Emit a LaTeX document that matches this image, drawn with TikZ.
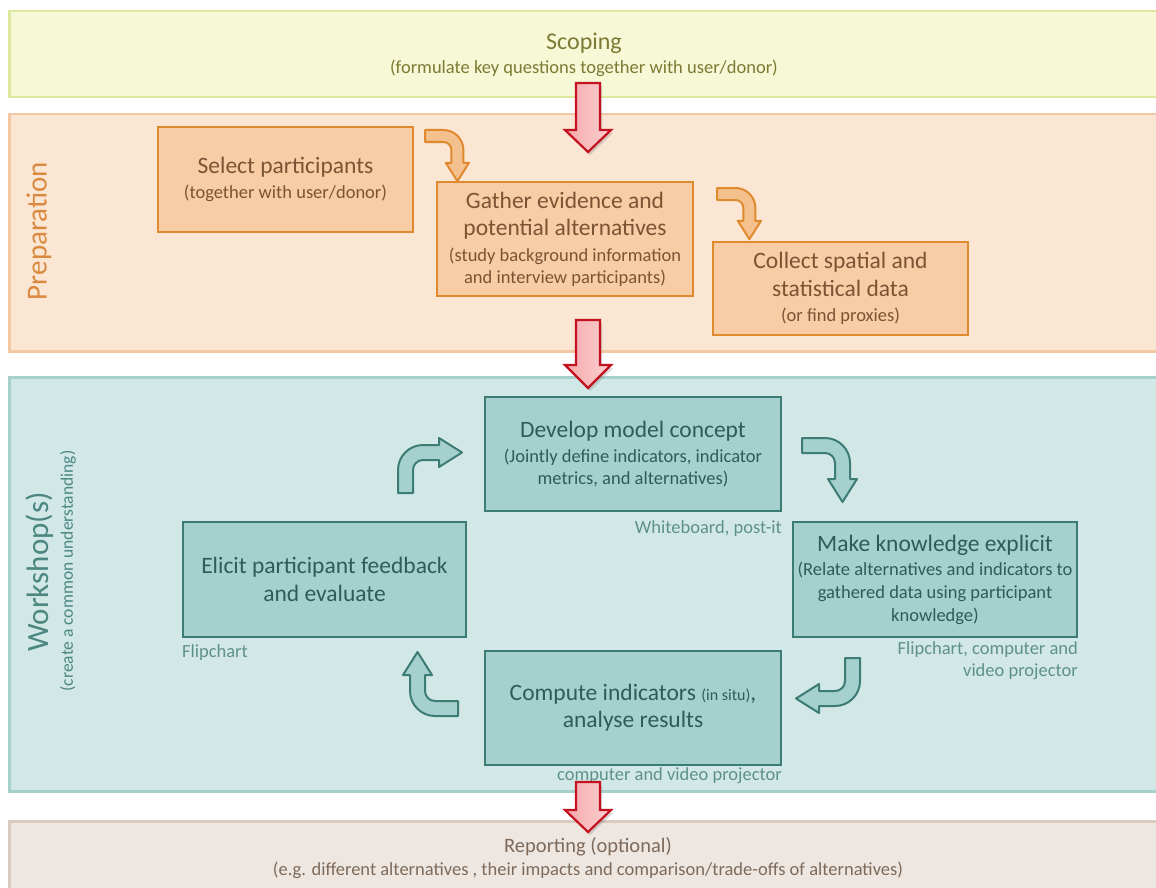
\documentclass[tikz,border=0pt]{standalone}
\usepackage{fontspec}
\setmainfont{Carlito}
\usetikzlibrary{shadows}

\definecolor{scopefill}{HTML}{F6F8D6}
\definecolor{scopeline}{HTML}{DCE89A}
\definecolor{scopetext}{HTML}{7C7A34}
\definecolor{prepfill}{HTML}{FBE5D3}
\definecolor{prepline}{HTML}{F4C8A2}
\definecolor{prepbox}{HTML}{F8CCA4}
\definecolor{prepboxline}{HTML}{DF8A2E}
\definecolor{preptext}{HTML}{7A5434}
\definecolor{preplabel}{HTML}{DA8A40}
\definecolor{prepbent}{HTML}{F4C08E}
\definecolor{workfill}{HTML}{D2E8E6}
\definecolor{workline}{HTML}{A6D0CC}
\definecolor{workbox}{HTML}{A4D1CD}
\definecolor{workboxline}{HTML}{3D7B75}
\definecolor{worktext}{HTML}{2E5C58}
\definecolor{worklabel}{HTML}{4C8782}
\definecolor{worknote}{HTML}{5E908C}
\definecolor{repfill}{HTML}{EEE7E1}
\definecolor{repline}{HTML}{D9CBBF}
\definecolor{reptext}{HTML}{7E6A5A}
\definecolor{redline}{HTML}{C3121F}
\definecolor{redfill}{HTML}{F6A9AB}
\definecolor{redlight}{HTML}{FBCFD0}

\newcommand\ttl{\fontsize{23.5}{28}\selectfont}
\newcommand\sbt{\fontsize{18.5}{22}\selectfont}

\tikzset{
  band/.style={rectangle, line width=2.5pt, inner sep=0pt},
  stagebox/.style={rectangle, line width=2.2pt, inner sep=0pt, align=center, font=\sbt},
  prepstage/.style={stagebox, fill=prepbox, draw=prepboxline, text=preptext},
  workstage/.style={stagebox, fill=workbox, draw=workboxline, text=worktext},
  note/.style={font=\sbt, text=worknote, inner sep=0pt},
  bentstyle/.style={line width=2pt, line join=round},
  pics/bentarrow/.style={code={
    \filldraw[bentstyle, #1]
      (0,0) -- (0,-23) .. controls (0,-36.8) and (11.2,-48) .. (25,-48)
      -- (41,-48) -- (41,-55) -- (64,-40.5) -- (41,-26) -- (41,-33)
      -- (25,-33) .. controls (19.48,-33) and (15,-28.52) .. (15,-23)
      -- (15,0) -- cycle;
  }},
  pics/stagearrow/.style 2 args={code={
    \draw[draw=redline, left color=redfill, right color=redlight, line width=2.2pt, line join=miter,
      drop shadow={opacity=0.3, shadow xshift=2pt, shadow yshift=-3pt}]
      (-12,0) -- (-12,#1) -- (-23,#1) -- (0,#2) -- (23,#1) -- (12,#1)
      -- (12,0) -- cycle;
  }}
}

\begin{document}
\begin{tikzpicture}[x=1pt, y=-1pt]
\useasboundingbox (0,0) rectangle (1156,888);
\fill[white] (0,0) rectangle (1156,888);
\clip (0,0) rectangle (1156,888);

% phase bands
\node[band, fill=scopefill, draw=scopeline, minimum width=1170pt, minimum height=86pt,
  anchor=north west] (scoping) at (8,10) {};
\node[band, fill=prepfill, draw=prepline, minimum width=1170pt, minimum height=237pt,
  anchor=north west] (preparation) at (8,113) {};
\node[band, fill=workfill, draw=workline, minimum width=1170pt, minimum height=414pt,
  anchor=north west] (workshop) at (8,376) {};
\node[band, fill=repfill, draw=repline, minimum width=1170pt, minimum height=80pt,
  anchor=north west] (reporting) at (8,820) {};

% band texts
\node[text=scopetext, align=center, font=\sbt] (scopetxt) at (584,55)
  {{\fontsize{24}{28}\selectfont Scoping}\\[2pt](formulate key questions together with user/donor)};
\node[text=preplabel, rotate=90, font=\fontsize{29}{32}\selectfont] (preplbl) at (39,231) {Preparation};
\node[text=worklabel, rotate=90, font=\fontsize{31}{34}\selectfont] (worklbl) at (40,572) {Workshop(s)};
\node[text=worklabel, rotate=90, font=\fontsize{17.5}{20}\selectfont] (worksub) at (68,571) {(create a common understanding)};
\node[text=reptext, align=center, font=\sbt] (reptxt) at (588,858)
  {{\fontsize{20.5}{24}\selectfont Reporting (optional)}\\[1pt](e.g. different alternatives , their impacts and comparison/trade-offs  of alternatives)};

% preparation steps
\node[prepstage, minimum width=255pt, minimum height=105pt] (select) at (285.5,179.5)
  {{\ttl Select participants}\\[3pt](together with user/donor)};
\node[prepstage, minimum width=256pt, minimum height=114pt] (gather) at (565,239)
  {{\ttl Gather evidence and}\\[5pt]{\ttl potential alternatives}\\[4pt](study background information\\and interview participants)};
\node[prepstage, minimum width=255pt, minimum height=93pt] (collect) at (840.5,288.5)
  {{\ttl Collect spatial and}\\[6pt]{\ttl statistical data}\\[3pt](or find proxies)};

% workshop steps
\node[workstage, minimum width=296pt, minimum height=114pt] (develop) at (633,454)
  {{\ttl Develop model concept}\\[3pt](Jointly define indicators, indicator\\metrics, and  alternatives)};
\node[workstage, minimum width=284pt, minimum height=115pt] (explicit) at (935,579.5)
  {{\ttl Make knowledge explicit}\\[2pt](Relate alternatives and indicators to\\[1pt]gathered data using participant\\[1pt]knowledge)};
\node[workstage, minimum width=296pt, minimum height=114pt] (compute) at (633,708)
  {{\ttl Compute indicators {\fontsize{16}{20}\selectfont(in situ)},}\\[5pt]{\ttl analyse results}};
\node[workstage, minimum width=283pt, minimum height=115pt] (elicit) at (324.5,579.5)
  {{\ttl Elicit participant feedback}\\[6pt]{\ttl and evaluate}};

% tools used in the workshop
\node[note, anchor=east] (whiteboard) at ([yshift=-16pt]develop.south east) {Whiteboard, post-it};
\node[note, anchor=north east, align=right] (flipvideo) at ([yshift=-3pt]explicit.south east) {Flipchart, computer and\\video projector};
\node[note, anchor=east] (projector) at ([yshift=-10pt]compute.south east) {computer and video projector};
\node[note, anchor=west] (flipchart) at ([yshift=-14pt]elicit.south west) {Flipchart};

% stage transitions
\pic at (588,83) {stagearrow={47}{69}};
\pic at (588,320) {stagearrow={45}{68}};
\pic at (588,782) {stagearrow={28}{50}};

% preparation sequence
\pic[scale=0.8, rotate=-90] at (425,130) {bentarrow={fill=prepbent, draw=prepboxline}};
\pic[scale=0.8, rotate=-90] at (717,188) {bentarrow={fill=prepbent, draw=prepboxline}};

% workshop cycle
\pic at (398,493) {bentarrow={fill=workbox, draw=workboxline}};
\pic[rotate=-90] at (802,438) {bentarrow={fill=workbox, draw=workboxline}};
\pic[rotate=180] at (860,658) {bentarrow={fill=workbox, draw=workboxline}};
\pic[rotate=90] at (458,716) {bentarrow={fill=workbox, draw=workboxline}};
\end{tikzpicture}
\end{document}
